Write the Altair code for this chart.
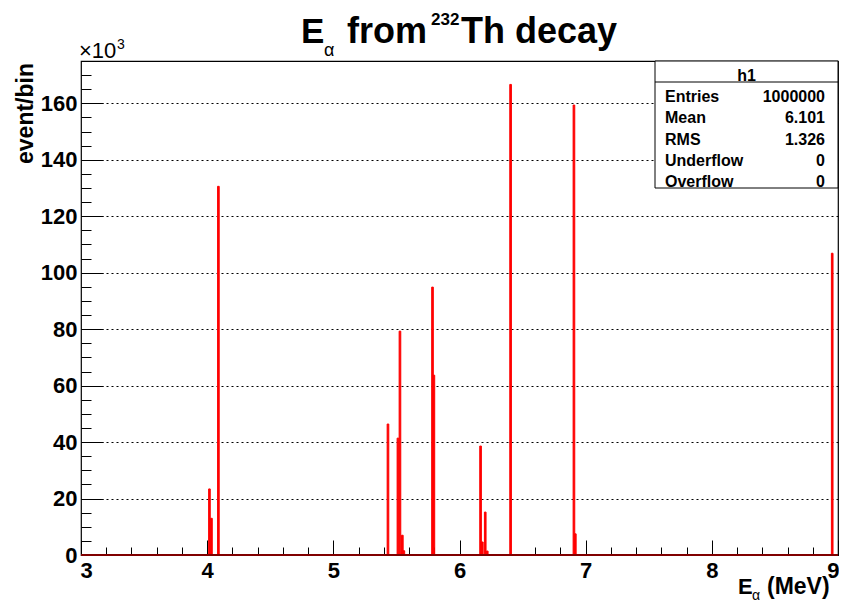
import altair as alt
import pandas as pd

# ---- data ----
energies = [4.018, 4.034, 4.089, 5.433, 5.512, 5.528, 5.547, 5.559, 5.786, 5.797,
            6.167, 6.181, 6.204, 6.220, 6.405, 6.907, 6.918, 8.954]
counts_k = [23.4, 13.0, 130.6, 46.4, 41.4, 79.3, 7.0, 1.5, 94.9, 63.7,
            38.6, 4.6, 15.2, 1.4, 166.7, 159.4, 7.5, 106.9]
bin_width = 0.013
hist_range = [3, 9]
y_max = 175

x_major = [3, 4, 5, 6, 7, 8, 9]
x_minor = [round(3 + 0.2 * i, 1) for i in range(31) if i % 5 != 0]
y_major = [0, 20, 40, 60, 80, 100, 120, 140, 160]
y_minor = [v for v in range(0, 175, 5) if v % 20 != 0]

stats_labels = ["Entries", "Mean", "RMS", "Underflow", "Overflow"]
stats_values = ["1000000", "6.101", "1.326", "0", "0"]

FONT = "Liberation Sans"

df = pd.DataFrame({
    "lo": [e - bin_width / 2 for e in energies],
    "hi": [e + bin_width / 2 for e in energies],
    "count": counts_k,
    "zero": [0] * len(energies),
})
range_df = pd.DataFrame({"x": [hist_range[0]], "x2": [hist_range[1]], "y": [0]})
one = pd.DataFrame({"a": [0]})

xs = alt.Scale(domain=hist_range, nice=False, zero=False)
ys = alt.Scale(domain=[0, y_max], nice=False)

base = alt.Chart(df)

bars = base.mark_bar(color="red", stroke="red", strokeWidth=1).encode(
    x=alt.X("lo:Q", scale=xs, axis=alt.Axis(
        orient="bottom", values=x_major, ticks=False, tickSize=0, domain=False, grid=False,
        labelFontSize=22, labelFontWeight="bold", labelFont=FONT, labelColor="black",
        labelPadding=5, labelFlush=True, labelFlushOffset=1, labelOverlap=False,
        title=None, format="d")),
    x2="hi:Q",
    y=alt.Y("count:Q", scale=ys, axis=alt.Axis(
        orient="left", values=y_major, ticks=False, tickSize=0, domain=False, grid=True,
        gridDash=[2, 3], gridColor="black", gridWidth=1, gridOpacity=1,
        labelFontSize=22, labelFontWeight="bold", labelFont=FONT, labelColor="black",
        labelPadding=4, labelFlush=False, labelOverlap=False, title=None, format="d")),
    y2="zero:Q",
)

zero_line = alt.Chart(range_df).mark_rule(color="#800000", strokeWidth=1.8).encode(
    x=alt.X("x:Q", scale=xs, axis=None), x2="x2:Q",
    y=alt.Y("y:Q", scale=ys, axis=None))

def tick_layer(xvals, xsize, yvals, ysize):
    return base.mark_point(opacity=0).encode(
        x=alt.X("lo:Q", scale=xs, axis=alt.Axis(
            orient="bottom", values=xvals, offset=-xsize, tickSize=xsize, ticks=True,
            tickColor="black", tickWidth=1, labels=False, domain=False, grid=False, title=None)),
        y=alt.Y("count:Q", scale=ys, axis=alt.Axis(
            orient="left", values=yvals, offset=-ysize, tickSize=ysize, ticks=True,
            tickColor="black", tickWidth=1, labels=False, domain=False, grid=False, title=None)),
    )

major_ticks = tick_layer(x_major, 15, y_major, 22)
minor_ticks = tick_layer(x_minor, 8, y_minor, 10)

def txt(s, x, y, size, weight="bold", align="left", angle=0):
    kw = dict(fontSize=size, fontWeight=weight, font=FONT, align=align,
              baseline="alphabetic", color="black")
    if angle:
        kw["angle"] = angle
    return alt.Chart(one).mark_text(**kw).encode(
        x=alt.value(x), y=alt.value(y), text=alt.value(s))

texts = [
    # title
    txt("E", 220, -18, 35),
    txt("α", 243, -5, 18, weight="normal"),
    txt("from", 266, -18, 36),
    txt("232", 350, -36, 17),
    txt("Th decay", 380, -18, 36),
    # x title
    txt("E", 657, 533, 22),
    txt("α", 671, 539, 14, weight="normal"),
    txt("(MeV)", 686, 533, 23),
    # y title
    txt("event/bin", -48, 2, 23, align="right", angle=270),
    # exponent
    txt("×10", -2, -3, 22, weight="normal"),
    txt("3", 36, -12, 14, weight="normal"),
]

box_l, box_r, box_t, box_b, head = 574, 757, 0, 127, 21
box = alt.Chart(one).mark_rect(fill="white", stroke="black", strokeWidth=1).encode(
    x=alt.value(box_l), x2=alt.value(box_r), y=alt.value(box_t), y2=alt.value(box_b))
head_line = alt.Chart(one).mark_rule(color="black", strokeWidth=1).encode(
    x=alt.value(box_l), x2=alt.value(box_r), y=alt.value(head))
stats = [txt("h1", (box_l + box_r) / 2, 20, 16, align="center")]
row_y = [41, 62, 84, 105, 126]
for lab, val, yy in zip(stats_labels, stats_values, row_y):
    stats.append(txt(lab, 584, yy, 16))
    stats.append(txt(val, 744, yy, 16, align="right"))

chart = alt.layer(
    bars, zero_line, major_ticks, minor_ticks, box, head_line, *stats, *texts
).resolve_axis(x="independent", y="independent").properties(
    width=757, height=494,
    autosize=alt.AutoSizeParams(type="none"),
    padding={"left": 73, "top": 53, "right": 1, "bottom": 48},
    background="white",
).configure_view(stroke="black", strokeWidth=1.2)

chart.save("out.html", embed_options={"renderer": "svg", "actions": False})
